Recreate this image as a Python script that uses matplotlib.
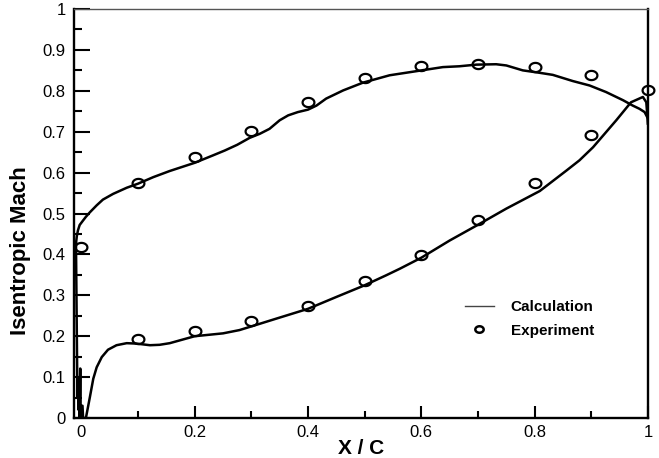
import numpy as np
import matplotlib
matplotlib.use("Agg")
import matplotlib.pyplot as plt
from matplotlib.path import Path
from matplotlib.lines import Line2D

plt.rcParams['font.family'] = ['Liberation Sans', 'DejaVu Sans']

# ── DATA ─────────────────────────────────────────────────
# calculation, upper surface (leading edge -> trailing edge)
upper_x = [-0.0095, -0.008, -0.006, -0.003, 0.003, 0.008, 0.015, 0.027, 0.038, 0.056,
           0.080, 0.100, 0.127, 0.156, 0.200, 0.232, 0.253, 0.275, 0.297, 0.315,
           0.332, 0.350, 0.365, 0.382, 0.400, 0.415, 0.432, 0.462, 0.497, 0.544,
           0.591, 0.638, 0.667, 0.697, 0.732, 0.750, 0.779, 0.809, 0.832, 0.867,
           0.897, 0.926, 0.956, 0.973, 0.985, 0.994, 1.0, 1.0]
upper_y = [0.427, 0.445, 0.459, 0.472, 0.483, 0.492, 0.503, 0.520, 0.534, 0.548,
           0.563, 0.573, 0.589, 0.604, 0.624, 0.642, 0.654, 0.668, 0.685, 0.695,
           0.707, 0.728, 0.740, 0.748, 0.754, 0.764, 0.781, 0.801, 0.820, 0.838,
           0.848, 0.858, 0.860, 0.864, 0.865, 0.862, 0.850, 0.844, 0.839, 0.824,
           0.813, 0.797, 0.777, 0.764, 0.756, 0.748, 0.732, 0.720]

# calculation, lower surface (leading edge -> trailing edge)
lower_x = [-0.0095, -0.008, -0.007, -0.006, -0.005, -0.004, -0.003, -0.002, -0.0015,
           -0.001, 0.002, 0.003, 0.008, 0.015, 0.021, 0.027, 0.036, 0.047, 0.062,
           0.080, 0.097, 0.121, 0.138, 0.156, 0.200, 0.250, 0.279, 0.300, 0.344,
           0.400, 0.450, 0.499, 0.538, 0.562, 0.600, 0.650, 0.698, 0.750, 0.809,
           0.856, 0.879, 0.903, 0.926, 0.944, 0.970, 0.991, 0.997, 0.999, 1.0]
lower_y = [0.427, 0.200, 0.050, 0.100, 0.020, 0.080, 0.000, 0.121, 0.030,
           0.030, 0.030, 0.000, 0.000, 0.051, 0.096, 0.124, 0.149, 0.167, 0.178,
           0.183, 0.182, 0.178, 0.179, 0.183, 0.200, 0.207, 0.215, 0.224, 0.243,
           0.267, 0.296, 0.324, 0.349, 0.365, 0.392, 0.434, 0.471, 0.512, 0.555,
           0.605, 0.630, 0.662, 0.699, 0.728, 0.772, 0.785, 0.772, 0.736, 0.720]

# experiment
exp_upper_x = [0.0, 0.1, 0.2, 0.3, 0.4, 0.5, 0.6, 0.7, 0.8, 0.9, 1.0]
exp_upper_y = [0.419, 0.574, 0.638, 0.701, 0.772, 0.831, 0.861, 0.866, 0.858, 0.838, 0.801]
exp_lower_x = [0.1, 0.2, 0.3, 0.4, 0.5, 0.6, 0.7, 0.8, 0.9]
exp_lower_y = [0.194, 0.212, 0.236, 0.274, 0.336, 0.398, 0.483, 0.574, 0.691]

x_ticks = [0, 0.2, 0.4, 0.6, 0.8, 1]
x_labels = ['0', '0.2', '0.4', '0.6', '0.8', '1']
y_ticks = [0, 0.1, 0.2, 0.3, 0.4, 0.5, 0.6, 0.7, 0.8, 0.9, 1]
y_labels = ['0', '0.1', '0.2', '0.3', '0.4', '0.5', '0.6', '0.7', '0.8', '0.9', '1']

# slightly flattened open circle, like the original symbols
t = np.linspace(0, 2 * np.pi, 40)
ellipse = Path(np.column_stack([np.cos(t), 0.78 * np.sin(t)]), closed=True)

# ── PLOT ─────────────────────────────────────────────────
fig = plt.figure(figsize=(6.59, 4.58), dpi=100)
ax = fig.add_axes([0.1123, 0.0873, 0.8710, 0.893])

ax.plot(upper_x, upper_y, color='black', lw=1.8)
ax.plot(lower_x, lower_y, color='black', lw=1.8)
ax.plot(exp_upper_x, exp_upper_y, ls='none', marker=ellipse, ms=8.5,
        mfc='none', mec='black', mew=1.6, clip_on=False)
ax.plot(exp_lower_x, exp_lower_y, ls='none', marker=ellipse, ms=8.5,
        mfc='none', mec='black', mew=1.6, clip_on=False)

ax.set_xlim(-0.013, 1.0)
ax.set_ylim(0, 1)

ax.set_xticks(x_ticks)
ax.set_xticklabels(x_labels)
ax.set_yticks(y_ticks)
ax.set_yticklabels(y_labels)
ax.set_xticks(np.arange(0.1, 1.0, 0.2), minor=True)
ax.set_yticks(np.arange(0.05, 1.0, 0.1), minor=True)

ax.tick_params(axis='both', which='both', direction='in', top=False, right=False,
               labelsize=12, width=1.5)
ax.tick_params(axis='x', which='major', length=9, pad=5)
ax.tick_params(axis='x', which='minor', length=5)
ax.tick_params(axis='y', which='major', length=11.5, pad=6)
ax.tick_params(axis='y', which='minor', length=6)

for side in ['left', 'bottom', 'right']:
    ax.spines[side].set_linewidth(1.7)
ax.spines['top'].set_linewidth(1.0)
ax.spines['top'].set_color('#555555')

ax.set_xlabel('X / C', fontsize=15, fontweight='bold', labelpad=-1)
ax.set_ylabel('Isentropic Mach', fontsize=16, fontweight='bold')
# label sits a bit below centre in the original
ax.yaxis.set_label_coords(-0.075, 0.41)

handles = [
    Line2D([], [], color='#444444', lw=1.0),
    Line2D([], [], ls='none', marker=ellipse, ms=6, mfc='none', mec='black', mew=1.8),
]
ax.legend(handles, ['Calculation', 'Experiment'], loc='center left',
          bbox_to_anchor=(0.681, 0.242), frameon=False, borderpad=0,
          borderaxespad=0, handlelength=1.9, handletextpad=1.1, labelspacing=0.6,
          prop={'size': 11, 'weight': 'bold'})

fig.savefig('out.png', dpi=100)
